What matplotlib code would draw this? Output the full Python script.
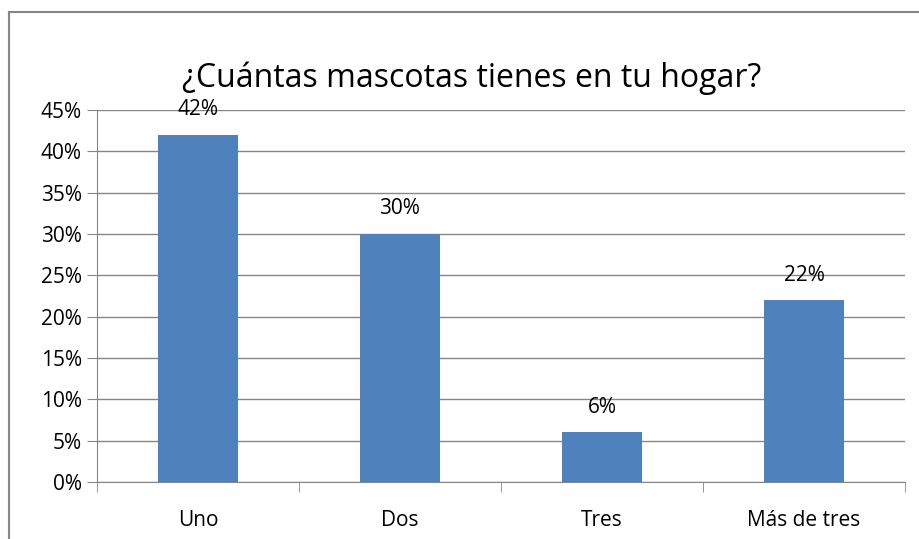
import numpy as np
import matplotlib
matplotlib.use('Agg')
from matplotlib import pyplot as plt
from matplotlib.ticker import MultipleLocator, FuncFormatter

categorias = ['Uno', 'Dos', 'Tres', 'Más de tres']
porcentajes = [42, 30, 6, 22]

plt.rcParams['font.family'] = ['Open Sans', 'DejaVu Sans']

fig = plt.figure(figsize=(9.2, 5.39), dpi=100)
ax = fig.add_axes([97/920, 1 - 482/539, 808/920, 372/539])

x = np.arange(len(categorias))
ax.bar(x, porcentajes, width=0.4, color='#4F81BD', zorder=3)

for xi, v in zip(x, porcentajes):
    ax.annotate('%d%%' % v, (xi, v), xytext=(0, 18), textcoords='offset points',
                ha='center', va='center', fontsize=15, zorder=4)

ax.set_xlim(-0.5, 3.5)
ax.set_ylim(0, 45)
ax.yaxis.set_major_locator(MultipleLocator(5))
ax.yaxis.set_major_formatter(FuncFormatter(lambda v, p: '%d%%' % v))
ax.set_xticks(x)
ax.set_xticklabels(categorias)
ax.set_xticks(np.arange(-0.5, 4, 1), minor=True)
ax.tick_params(axis='x', which='major', length=0, pad=20, labelsize=15)
ax.tick_params(axis='x', which='minor', length=7, color='#868686', direction='out')
ax.tick_params(axis='y', length=7, color='#868686', direction='out', labelsize=15, pad=4)
ax.grid(axis='y', color='#868686', linewidth=1, zorder=0)

for s in ['top', 'right']:
    ax.spines[s].set_visible(False)
for s in ['left', 'bottom']:
    ax.spines[s].set_color('#868686')

fig.text(472/920, 1 - 78/539, '¿Cuántas mascotas tienes en tu hogar?',
         ha='center', va='center', fontsize=23)

# borde del gráfico
fig.add_artist(plt.Line2D([9.5/920, 9.5/920], [0, 1 - 11.5/539], transform=fig.transFigure,
                          color='#868686', linewidth=1.5))
fig.add_artist(plt.Line2D([9.5/920, 1], [1 - 11.5/539, 1 - 11.5/539], transform=fig.transFigure,
                          color='#868686', linewidth=1.5))

plt.savefig('out.png', dpi=100)
